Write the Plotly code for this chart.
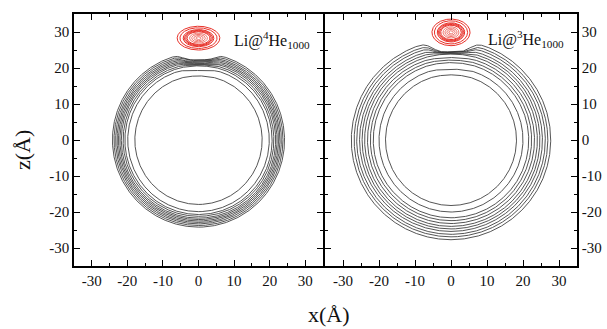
import numpy as np
import plotly.graph_objects as go

# ---- data (Angstrom) ----
# Left panel: Li@4He1000
left_band_r   = [24.2, 23.75, 23.3, 22.9, 22.5, 22.1, 21.7, 21.2, 20.7]
left_band_top = [22.3, 22.1, 21.9, 21.7, 21.5, 21.3, 21.1, 20.9, 20.6]
left_inner_r   = [19.9, 17.9]
left_inner_top = [19.3, 17.8]
left_dip_width = 0.21
left_li_center = [0.0, 28.3]
left_li_axes   = [6.0, 3.3]

# Right panel: Li@3He1000
right_band_r   = [27.7, 26.9, 26.2, 25.4, 24.7, 24.0, 23.2, 22.4, 21.6]
right_band_top = [24.5, 24.4, 24.3, 24.2, 24.1, 23.9, 22.9, 22.2, 21.5]
right_inner_r   = [20.0, 18.2]
right_inner_top = [19.7, 18.1]
right_dip_width = 0.22
right_li_center = [0.0, 29.9]
right_li_axes   = [5.3, 3.7]

# relative sizes of the Li density contour levels
li_levels = [1.0, 0.87, 0.72, 0.66, 0.60, 0.54, 0.42, 0.32, 0.22, 0.12]

tick_vals = [-30, -20, -10, 0, 10, 20, 30]
tick_text = ["-30", "-20", "-10", "0", "10", "20", "30"]
labels = ["Li@<sup>4</sup>He<sub>1000</sub>", "Li@<sup>3</sup>He<sub>1000</sub>"]

FONT = "Liberation Serif"
fig = go.Figure()

theta = np.linspace(-np.pi, np.pi, 1441)


def he_contour(R, top, w):
    r = R - (R - top) * np.exp(-(theta / w) ** 4)
    return r * np.sin(theta), r * np.cos(theta)


def add_panel(xa, ya, band_r, band_top, inner_r, inner_top, w, c, ax):
    for R, t in zip(band_r + inner_r, band_top + inner_top):
        x, z = he_contour(R, t, w)
        fig.add_trace(go.Scatter(x=x, y=z, mode="lines", xaxis=xa, yaxis=ya,
                                 line=dict(color="#2a2a2a", width=0.8),
                                 hoverinfo="skip", showlegend=False))
    for s in li_levels:
        x = c[0] + s * ax[0] * np.sin(theta)
        z = c[1] + s * ax[1] * np.cos(theta)
        col = "#e8322a" if s > 0.45 else "#f07a72"
        fig.add_trace(go.Scatter(x=x, y=z, mode="lines", xaxis=xa, yaxis=ya,
                                 line=dict(color=col, width=1.0),
                                 hoverinfo="skip", showlegend=False))


add_panel("x", "y", left_band_r, left_band_top, left_inner_r, left_inner_top,
          left_dip_width, left_li_center, left_li_axes)
add_panel("x2", "y2", right_band_r, right_band_top, right_inner_r, right_inner_top,
          right_dip_width, right_li_center, right_li_axes)

W, H = 607, 329
ax_common = dict(range=[-35, 35], tickvals=tick_vals, ticktext=tick_text,
                 ticks="inside", ticklen=6,
                 tickwidth=1.2, tickcolor="black", showline=True, linecolor="black",
                 linewidth=1.5, mirror="ticks", showgrid=False, zeroline=False,
                 minor=dict(dtick=5, ticks="inside", ticklen=3, tickcolor="black",
                            tickwidth=1, showgrid=False),
                 tickfont=dict(family=FONT, size=15, color="#111"))

fig.update_layout(
    width=W, height=H, margin=dict(l=0, r=0, t=0, b=0),
    paper_bgcolor="white", plot_bgcolor="white", showlegend=False,
    font=dict(family=FONT, color="#111"),
    xaxis=dict(domain=[74 / W, 323 / W], anchor="y", **ax_common),
    yaxis=dict(domain=[1 - 266 / H, 1 - 14 / H], anchor="x", side="left", **ax_common),
    xaxis2=dict(domain=[325 / W, 577 / W], anchor="y2", **ax_common),
    yaxis2=dict(domain=[1 - 266 / H, 1 - 14 / H], anchor="x2", side="right", **ax_common),
)

fig.add_annotation(x=9.3, y=27.8, xref="x", yref="y", text=labels[0], showarrow=False,
                   xanchor="left", yanchor="middle",
                   font=dict(family=FONT, size=16, color="#111"))
fig.add_annotation(x=9.6, y=28.0, xref="x2", yref="y2", text=labels[1], showarrow=False,
                   xanchor="left", yanchor="middle",
                   font=dict(family=FONT, size=16, color="#111"))
fig.add_annotation(x=22 / W, y=1 - 150 / H, xref="paper", yref="paper", text="z(Å)",
                   textangle=-90, showarrow=False, xanchor="center", yanchor="middle",
                   font=dict(family=FONT, size=22, color="#111"))
fig.add_annotation(x=329 / W, y=1 - 314 / H, xref="paper", yref="paper", text="x(Å)",
                   showarrow=False, xanchor="center", yanchor="middle",
                   font=dict(family=FONT, size=22, color="#111"))

fig.write_html("out.html")
